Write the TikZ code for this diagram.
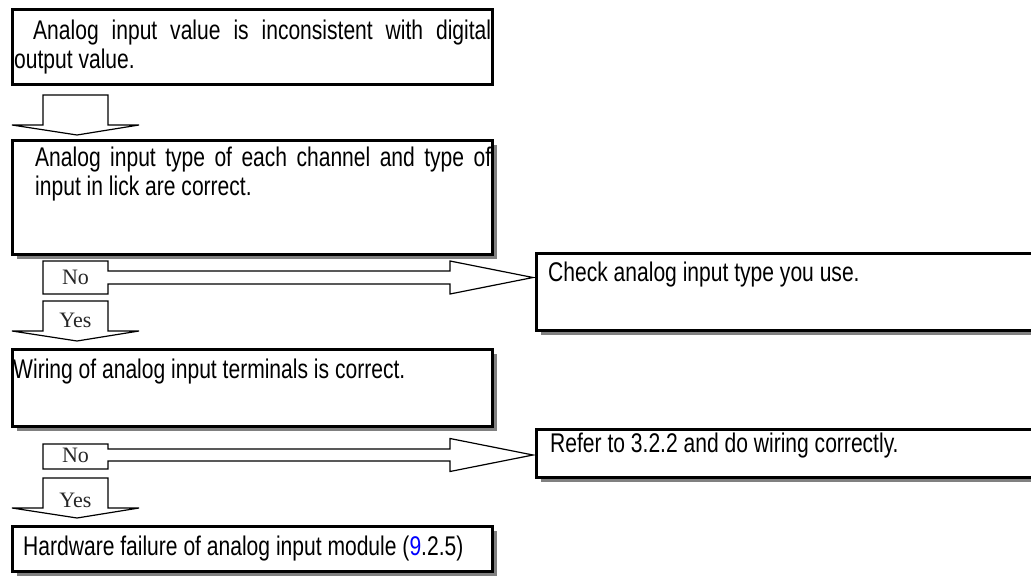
\documentclass[tikz,border=0pt]{standalone}
\usepackage{fontspec}
\setmainfont[FakeStretch=0.78]{Liberation Sans}
\newfontfamily\tagfont{Liberation Serif}
\usetikzlibrary{calc,shadows}
\definecolor{shade}{HTML}{808080}

\begin{document}
\begin{tikzpicture}[x=1pt, y=-1pt,
  box/.style={draw, line width=3pt, fill=white, outer sep=0pt, inner sep=0pt, anchor=north west, minimum width=480pt},
  shbox/.style={box, drop shadow={shadow xshift=4pt, shadow yshift=-4pt, fill=shade, opacity=1}},
  txt/.style={inner sep=0pt, anchor=base west, font=\fontsize{27}{29.5}\selectfont},
  blk/.style={draw, line width=1.2pt, line join=miter},
  tag/.style={inner sep=0pt, font=\tagfont\fontsize{22}{24}\selectfont, text=black!85}
]
  \useasboundingbox (0,0) rectangle (1031,576);

  % question boxes
  \node[box, minimum height=75pt] (q1) at (12.5,9.5) {};
  \node[shbox, minimum height=114pt] (q2) at (12.5,140.5) {};
  \node[shbox, minimum height=77pt] (q3) at (12.5,349.5) {};
  \node[shbox, minimum height=45pt] (q4) at (12.5,526.5) {};
  % answer boxes
  \node[shbox, minimum width=520pt, minimum height=77pt] (r1) at (536.5,253.5) {};
  \node[shbox, minimum width=520pt, minimum height=48pt] (r2) at (536.5,429.5) {};

  % texts
  \node[txt, text width=477pt, align=justify] (t1) at (14,39)
    {\hspace*{19pt}Analog input value is inconsistent with digital\linebreak output value.};
  \node[txt, text width=456pt, align=justify] (t2) at (35,166)
    {Analog input type of each channel and type of\linebreak input in lick are correct.};
  \node[txt] (t3) at (13,378) {Wiring of analog input terminals is correct.};
  \node[txt] (t4) at (23,555) {Hardware failure of analog input module ({\color{blue}9}.2.5)};
  \node[txt] (tr1) at (548,281) {Check analog input type you use.};
  \node[txt] (tr2) at (550,452) {Refer to 3.2.2 and do wiring correctly.};

  % block arrows down
  \coordinate (d1) at (43,95);
  \coordinate (d2) at (43,301);
  \coordinate (d3) at (43,478);
  \foreach \d in {d1,d2,d3}{
    \draw[blk] (\d) -- ++(65,0) -- ++(0,30) -- ++(31,0) -- ++(-62,10) -- ++(-65,-10) -- ++(31,0) -- cycle;
  }
  % block arrows right
  \coordinate (n1) at (43,261);
  \coordinate (n2) at (43,444);
  \draw[blk] (n1) -- ++(65,0) -- ++(0,10) -- ++(342,0) -- ++(0,-10)
    -- ($(r1.north west)+(-3.5,24)$) -- ++(-83,16.5) -- ++(0,-10) -- ++(-342,0) -- ++(0,10) -- ++(-65,0) -- cycle;
  \draw[blk] (n2) -- ++(65,0) -- ++(0,5) -- ++(342,0) -- ++(0,-10.5)
    -- ($(r2.north west)+(-3.5,25.5)$) -- ++(-83,16.5) -- ++(0,-10.5) -- ++(-342,0) -- ++(0,8) -- ++(-65,0) -- cycle;

  % yes / no tags
  \node[tag] (no1) at (75.5,277.5) {No};
  \node[tag] (no2) at (75.5,455) {No};
  \node[tag] (yes1) at (75.5,320.5) {Yes};
  \node[tag] (yes2) at (75.5,500) {Yes};
\end{tikzpicture}
\end{document}
